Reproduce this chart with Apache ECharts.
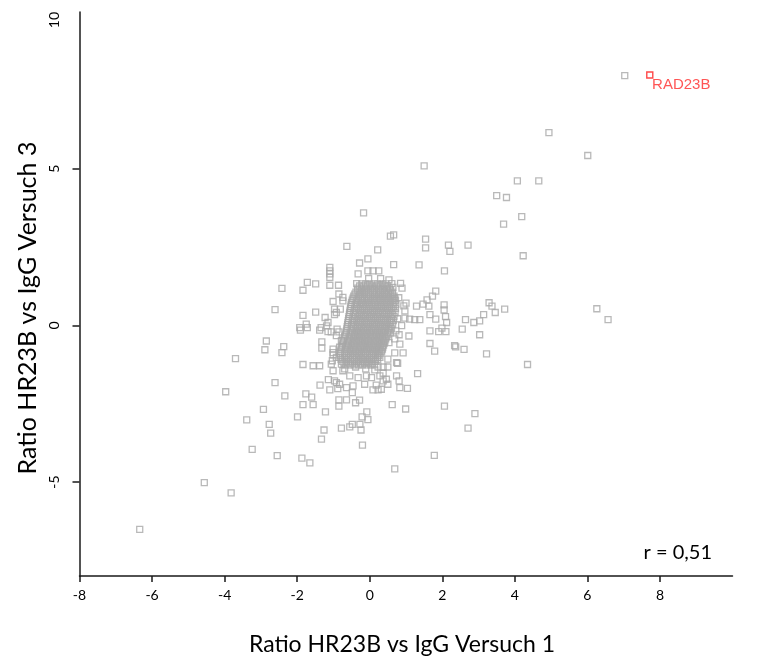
<!DOCTYPE html>
<html>
<head>
<meta charset="utf-8">
<script src="https://cdn.jsdelivr.net/npm/echarts@6/dist/echarts.min.js"></script>
<style>
  html, body { margin: 0; padding: 0; background: #ffffff; }
  #chart { width: 770px; height: 658px; }
</style>
</head>
<body>
<div id="chart"></div>
<script>
// Axis ticks
const xTicks = [-8, -6, -4, -2, 0, 2, 4, 6, 8];
const yTicks = [-5, 0, 5, 10];
const yTickMarks = [-5, 0, 5];

// Text
const xTitle = 'Ratio HR23B vs IgG Versuch 1';
const yTitle = 'Ratio HR23B vs IgG Versuch 3';
const corrText = 'r = 0,51';

// Highlighted protein
const highlightName = 'RAD23B';
const highlightPoint = [7.72, 7.99];

// Proteins far from the centre
const farPoints = [
  [-6.34, -6.51], [-4.56, -5.02], [-3.82, -5.35], [-3.97, -2.12], [-3.70, -1.06],
  [-3.39, -3.02], [-3.24, -3.96], [-2.93, -2.68], [-2.77, -3.16], [-2.73, -3.44],
  [-2.85, -0.50], [-2.89, -0.78], [-2.61, -1.83], [-2.55, -4.16], [-2.61, 0.50],
  [-2.42, 1.18], [-2.37, -0.68], [-2.42, -0.87], [-1.87, -4.24], [-1.65, -4.39],
  [-2.34, -2.25], [-1.99, -2.92], [-1.76, -2.19], [-1.60, -2.29], [-1.84, -2.53],
  [-1.56, -2.53], [-1.22, -2.76], [-1.26, -3.34], [-1.33, -3.63], [-0.78, -3.28],
  [-0.55, -3.24], [-0.48, -3.16], [-0.27, -3.16], [-0.24, -3.34], [-0.08, -2.76],
  [-0.21, -2.92], [-0.05, -3.01], [-0.20, -3.82], [-0.63, 2.52], [-0.17, 3.59],
  [0.22, 2.41], [-0.05, 2.12], [-0.28, 1.99], [0.57, 2.85], [0.66, 2.89],
  [0.66, 1.94], [1.36, 1.93], [1.54, 2.75], [1.54, 2.47], [2.17, 2.56],
  [2.21, 2.36], [2.71, 2.56], [2.06, 1.74], [1.50, 5.09], [4.07, 4.61],
  [4.66, 4.61], [3.50, 4.14], [3.77, 4.08], [4.19, 3.47], [3.69, 3.23],
  [4.23, 2.22], [4.94, 6.15], [6.01, 5.42], [7.03, 7.97], [6.26, 0.53],
  [6.57, 0.18], [4.35, -1.25], [3.29, 0.72], [3.37, 0.61], [3.46, 0.41],
  [3.72, 0.52], [3.14, 0.34], [3.03, 0.14], [2.87, 0.09], [2.64, 0.18],
  [2.55, -0.12], [3.03, -0.30], [3.22, -0.91], [2.60, -0.77], [2.34, -0.65],
  [2.37, -0.69], [2.06, -2.58], [2.90, -2.82], [2.71, -3.28], [1.78, -4.15],
  [0.69, -4.58], [0.62, -2.53], [0.99, -2.67], [1.04, -2.01], [1.32, -1.54]
];

// Proteins around the dense centre
const ringPoints = [
  [-1.84, -1.25], [-1.56, -1.29], [-1.38, -1.29], [-1.37, -1.91], [-1.14, -1.73],
  [-1.10, -2.06], [-0.88, -2.02], [-0.85, -2.38], [-0.64, -2.38], [-0.85, -2.58],
  [-0.39, -2.47], [-0.28, -2.39], [-0.48, -2.15], [-0.92, -1.83], [-1.32, -0.53],
  [-1.32, -0.73], [-1.91, -0.15], [-1.75, 0.04], [-1.72, -0.07], [-1.38, -0.15],
  [-1.15, -0.20], [-1.01, -0.87], [-1.03, -1.13], [-1.06, -1.24], [-1.01, -0.76],
  [-1.84, 0.32], [-1.49, 0.42], [-1.23, 0.25], [-1.15, 0.09], [-1.19, -0.02],
  [-1.72, 1.37], [-1.84, 1.12], [-1.49, 1.32], [-1.10, 1.28], [-0.86, 1.28],
  [-1.10, 1.85], [-1.10, 1.74], [-1.10, 1.64], [-1.10, 1.53], [-0.32, 1.64],
  [-0.05, 1.74], [0.09, 1.74], [0.25, 1.74], [0.53, 1.45], [0.85, 1.34],
  [0.89, 1.19], [0.64, 1.21], [1.82, 1.09], [1.73, 0.93], [1.58, 0.81],
  [1.47, 0.68], [1.29, 0.61], [1.63, 0.61], [2.05, 0.65], [2.05, 0.49],
  [2.09, 0.28], [2.12, 0.09], [1.66, 0.34], [1.82, 0.20], [1.10, 0.20],
  [1.24, 0.18], [1.38, 0.18], [1.00, 0.71], [0.97, 0.46], [0.97, 0.23],
  [1.08, -0.34], [0.81, -0.30], [1.90, -0.20], [2.10, -0.20], [1.99, -0.09],
  [1.66, -0.58], [1.79, -0.82], [0.69, -0.88], [0.92, -0.88], [0.77, -1.21],
  [0.37, -1.33], [0.23, -1.33], [0.37, -1.53], [0.74, -1.61], [0.81, -1.77],
  [0.18, -1.91], [0.23, -2.06], [0.09, -2.06], [0.53, -0.55], [0.72, -0.18],
  [0.83, -0.60], [1.66, -0.18], [0.50, -1.08], [0.74, -1.19], [0.83, -1.99],
  [-0.74, -1.45], [-0.55, -1.61], [-0.32, -1.67], [-0.09, -1.61], [0.05, -1.67],
  [0.28, -1.61], [0.46, -1.72], [-1.01, -1.45], [-0.97, -1.77], [-0.83, -1.88],
  [-0.64, -1.99], [-0.46, -1.93], [-0.14, -1.88], [0.37, -1.77], [0.50, -1.88],
  [0.32, -2.04], [-0.85, 1.00], [-1.01, 0.76], [-0.74, 0.78], [-0.97, 0.52],
  [-0.81, 0.52], [-0.97, 0.34], [-0.92, 0.41], [-1.34, -0.07], [-1.06, -0.21],
  [-0.85, -0.21], [-0.90, -0.12], [-0.74, 0.89], [-1.93, -0.07], [-1.01, -0.94],
  [-0.92, -0.33], [-0.78, -0.49], [-0.83, -0.70], [-0.92, -1.02], [-0.78, -1.24],
  [0.80, 0.88], [0.94, 0.62], [0.77, 0.21], [0.88, -0.01], [0.69, -0.43],
  [-0.69, -1.39], [-0.39, -1.33], [-0.11, -1.39], [0.14, -1.42], [0.50, -1.33],
  [-0.36, 1.33], [-0.03, 1.49], [0.30, 1.49], [0.61, 1.33]
];

// Dense centre, part 1: ratio 3 levels and the ratio 1 values found at each level
const coreY = [1.32, 1.19, 1.06, 0.93, 0.80, 0.67, 0.54, 0.41, 0.28, 0.15, 0.02,
  -0.11, -0.24, -0.37, -0.50, -0.63, -0.76, -0.89, -1.02, -1.15, -1.26];
const coreX = [
  [-0.22, -0.11, 0.00, 0.12, 0.22, 0.34, 0.44],
  [-0.33, -0.22, -0.10, 0.02, 0.13, 0.24, 0.36, 0.47, 0.55],
  [-0.38, -0.27, -0.15, -0.04, 0.08, 0.19, 0.30, 0.41, 0.52, 0.62],
  [-0.44, -0.32, -0.21, -0.09, 0.02, 0.14, 0.25, 0.36, 0.47, 0.58, 0.67],
  [-0.48, -0.37, -0.25, -0.14, -0.03, 0.09, 0.20, 0.31, 0.42, 0.53, 0.64, 0.71],
  [-0.51, -0.40, -0.28, -0.17, -0.05, 0.06, 0.17, 0.29, 0.40, 0.51, 0.62, 0.72],
  [-0.53, -0.42, -0.31, -0.19, -0.08, 0.03, 0.15, 0.26, 0.37, 0.49, 0.60, 0.71],
  [-0.55, -0.44, -0.32, -0.21, -0.10, 0.02, 0.13, 0.24, 0.36, 0.47, 0.58, 0.70],
  [-0.57, -0.46, -0.34, -0.23, -0.12, 0.00, 0.11, 0.22, 0.34, 0.45, 0.56, 0.67],
  [-0.59, -0.48, -0.36, -0.25, -0.13, -0.02, 0.09, 0.21, 0.32, 0.43, 0.55, 0.65],
  [-0.61, -0.50, -0.38, -0.27, -0.15, -0.04, 0.08, 0.19, 0.30, 0.42, 0.53, 0.63],
  [-0.63, -0.51, -0.40, -0.29, -0.17, -0.06, 0.06, 0.17, 0.28, 0.40, 0.51, 0.60],
  [-0.65, -0.54, -0.42, -0.31, -0.19, -0.08, 0.03, 0.15, 0.26, 0.37, 0.49, 0.57],
  [-0.69, -0.57, -0.45, -0.34, -0.22, -0.11, 0.01, 0.12, 0.23, 0.35, 0.46],
  [-0.73, -0.61, -0.49, -0.37, -0.26, -0.14, -0.03, 0.09, 0.20, 0.31, 0.42],
  [-0.76, -0.64, -0.52, -0.41, -0.29, -0.18, -0.06, 0.05, 0.17, 0.28, 0.38],
  [-0.79, -0.67, -0.55, -0.44, -0.32, -0.21, -0.09, 0.02, 0.14, 0.25, 0.35],
  [-0.81, -0.69, -0.58, -0.46, -0.35, -0.23, -0.12, 0.00, 0.11, 0.22, 0.31],
  [-0.82, -0.70, -0.59, -0.47, -0.36, -0.24, -0.13, -0.01, 0.10, 0.21, 0.28],
  [-0.76, -0.64, -0.53, -0.41, -0.30, -0.18, -0.07, 0.05, 0.16],
  [-0.66, -0.54, -0.43, -0.31, -0.20, -0.08, 0.03, 0.13]
];

// Dense centre, part 2: the levels lying between those of part 1
const coreY2 = [1.255, 1.125, 0.995, 0.865, 0.735, 0.605, 0.475, 0.345, 0.215, 0.085,
  -0.045, -0.175, -0.305, -0.435, -0.565, -0.695, -0.825, -0.955, -1.085, -1.205];
const coreX2 = [
  [-0.28, -0.16, -0.05, 0.07, 0.18, 0.29, 0.40, 0.50],
  [-0.33, -0.21, -0.10, 0.02, 0.13, 0.25, 0.35, 0.46, 0.57],
  [-0.41, -0.27, -0.15, -0.03, 0.08, 0.19, 0.30, 0.41, 0.52, 0.63],
  [-0.46, -0.31, -0.20, -0.08, 0.03, 0.14, 0.26, 0.37, 0.48, 0.59, 0.69],
  [-0.50, -0.34, -0.22, -0.11, 0.00, 0.12, 0.23, 0.34, 0.46, 0.57, 0.67],
  [-0.52, -0.36, -0.25, -0.13, -0.02, 0.09, 0.21, 0.32, 0.43, 0.55, 0.66],
  [-0.54, -0.38, -0.26, -0.15, -0.04, 0.08, 0.19, 0.30, 0.42, 0.53, 0.64],
  [-0.56, -0.40, -0.28, -0.17, -0.06, 0.06, 0.17, 0.28, 0.40, 0.51, 0.62],
  [-0.58, -0.42, -0.30, -0.19, -0.07, 0.04, 0.15, 0.27, 0.38, 0.49, 0.60],
  [-0.60, -0.44, -0.32, -0.21, -0.09, 0.02, 0.14, 0.25, 0.36, 0.48, 0.58],
  [-0.62, -0.45, -0.34, -0.23, -0.11, 0.00, 0.12, 0.23, 0.34, 0.46, 0.56],
  [-0.64, -0.48, -0.36, -0.25, -0.13, -0.02, 0.10, 0.21, 0.32, 0.43, 0.53],
  [-0.67, -0.51, -0.40, -0.28, -0.16, -0.05, 0.07, 0.18, 0.29, 0.41, 0.50],
  [-0.71, -0.55, -0.43, -0.31, -0.20, -0.08, 0.03, 0.15, 0.26, 0.37, 0.44],
  [-0.74, -0.58, -0.46, -0.35, -0.23, -0.12, 0.00, 0.11, 0.23, 0.33, 0.40],
  [-0.77, -0.61, -0.49, -0.38, -0.26, -0.15, -0.03, 0.08, 0.20, 0.30, 0.36],
  [-0.80, -0.63, -0.52, -0.40, -0.29, -0.17, -0.06, 0.06, 0.17, 0.27, 0.33],
  [-0.81, -0.64, -0.53, -0.41, -0.30, -0.18, -0.07, 0.05, 0.16, 0.25],
  [-0.79, -0.65, -0.53, -0.42, -0.30, -0.19, -0.07, 0.04, 0.15, 0.22],
  [-0.71, -0.59, -0.48, -0.36, -0.25, -0.13, -0.02, 0.08]
];

const FONT = 'Lato';
const AXIS_COLOR = '#1a1a1a';
const POINT_COLOR = '#a8a8a8';

function rowsToPoints(levels, rows) {
  const pts = [];
  levels.forEach((y, i) => rows[i].forEach(x => pts.push([x, y])));
  return pts;
}
const allPoints = farPoints.concat(ringPoints, rowsToPoints(coreY, coreX), rowsToPoints(coreY2, coreX2));

const chart = echarts.init(document.getElementById('chart'), null, { renderer: 'canvas' });
chart.setOption({
  animation: false,
  backgroundColor: '#ffffff',
  grid: { left: 79.5, right: 37.5, top: 12, bottom: 82, containLabel: false },
  xAxis: {
    type: 'value', min: -8, max: 10,
    axisLine: { show: true, onZero: false, lineStyle: { color: AXIS_COLOR, width: 1.5 } },
    axisTick: { show: true, length: 6, customValues: xTicks, lineStyle: { color: AXIS_COLOR, width: 1.5 } },
    axisLabel: { customValues: xTicks, margin: 12, fontSize: 14, color: '#000', fontFamily: FONT },
    splitLine: { show: false }
  },
  yAxis: {
    type: 'value', min: -8, max: 10,
    axisLine: { show: true, onZero: false, lineStyle: { color: AXIS_COLOR, width: 1.5 } },
    axisTick: { show: true, length: 7, customValues: yTickMarks, lineStyle: { color: AXIS_COLOR, width: 1.5 } },
    axisLabel: {
      customValues: yTicks, rotate: 90, margin: 18, fontSize: 14, color: '#000', fontFamily: FONT,
      alignMaxLabel: 'right'
    },
    splitLine: { show: false }
  },
  series: [
    {
      type: 'scatter',
      data: allPoints,
      symbol: 'rect',
      symbolSize: 6,
      itemStyle: { color: 'rgba(0,0,0,0)', borderColor: POINT_COLOR, borderWidth: 1.3 },
      emphasis: { disabled: true },
      silent: true
    },
    {
      type: 'scatter',
      data: [highlightPoint],
      symbol: 'rect',
      symbolSize: 6,
      itemStyle: { color: 'rgba(0,0,0,0)', borderColor: '#ff1a1a', borderWidth: 1.4 },
      label: {
        show: true, formatter: highlightName, position: [6, 6],
        align: 'left', verticalAlign: 'top',
        fontFamily: 'Liberation Sans', fontSize: 15, color: '#ff2a2a'
      },
      emphasis: { disabled: true },
      silent: true
    }
  ],
  graphic: [
    {
      type: 'text', x: 402, y: 645,
      style: { text: xTitle, fontSize: 23, fontFamily: FONT, fill: '#000', align: 'center', verticalAlign: 'middle' }
    },
    {
      type: 'text', x: 28, y: 308, rotation: Math.PI / 2,
      style: { text: yTitle, fontSize: 25, fontFamily: FONT, fill: '#000', align: 'center', verticalAlign: 'middle' }
    },
    {
      type: 'text', x: 712, y: 553,
      style: { text: corrText, fontSize: 20, fontFamily: FONT, fill: '#000', align: 'right', verticalAlign: 'middle' }
    }
  ]
});
</script>
</body>
</html>
